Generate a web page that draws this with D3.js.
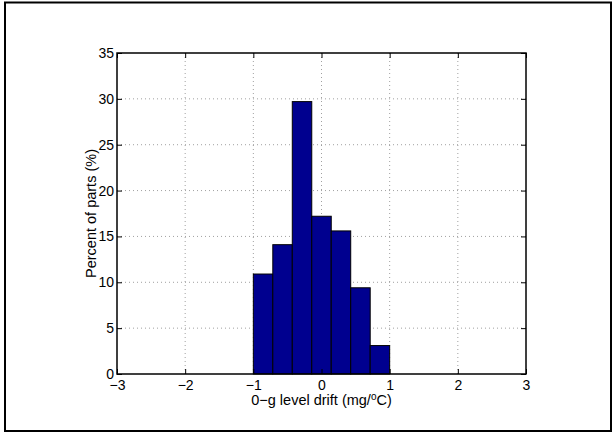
<!DOCTYPE html>
<html>
<head>
<meta charset="utf-8">
<script src="https://cdn.jsdelivr.net/npm/d3@7"></script>
<style>
  body { margin: 0; background: #fff; }
  svg { display: block; font-family: "Liberation Sans", Arial, Helvetica, sans-serif; }
</style>
</head>
<body>
<div id="chart"></div>
<script>
// histogram bins (edges from -1 to 1, 7 bins) and percent of parts
var binEdges = [-1, -0.7143, -0.4286, -0.1429, 0.1429, 0.4286, 0.7143, 1];
var percents = [10.9, 14.1, 29.7, 17.2, 15.6, 9.4, 3.1];
var xTicks = [-3, -2, -1, 0, 1, 2, 3];
var yTicks = [0, 5, 10, 15, 20, 25, 30, 35];

var width = 613, height = 433;
var plot = { left: 117, right: 526, top: 53, bottom: 374 };

var svg = d3.select('#chart').append('svg')
    .attr('width', width)
    .attr('height', height);

// figure frame
svg.append('rect')
    .attr('x', 5).attr('y', 2.5)
    .attr('width', 606).attr('height', 428.5)
    .attr('fill', 'none')
    .attr('stroke', '#000')
    .attr('stroke-width', 2);

var x = d3.scaleLinear().domain([-3, 3]).range([plot.left, plot.right]);
var y = d3.scaleLinear().domain([0, 35]).range([plot.bottom, plot.top]);

// dotted grid
var grid = svg.append('g').attr('class', 'grid');
grid.selectAll('line.gx')
    .data(xTicks.slice(1, -1))
    .enter()
    .append('line')
    .attr('class', 'gx')
    .attr('x1', function(d) { return x(d); })
    .attr('x2', function(d) { return x(d); })
    .attr('y1', plot.top)
    .attr('y2', plot.bottom)
    .attr('stroke', '#888')
    .attr('stroke-width', 0.8)
    .attr('stroke-dasharray', '1,3');
grid.selectAll('line.gy')
    .data(yTicks.slice(1, -1))
    .enter()
    .append('line')
    .attr('class', 'gy')
    .attr('x1', plot.left)
    .attr('x2', plot.right)
    .attr('y1', function(d) { return y(d); })
    .attr('y2', function(d) { return y(d); })
    .attr('stroke', '#888')
    .attr('stroke-width', 0.8)
    .attr('stroke-dasharray', '1,3');

// bars
svg.append('g')
    .selectAll('rect')
    .data(percents)
    .enter()
    .append('rect')
    .attr('x', function(d, i) { return x(binEdges[i]); })
    .attr('width', function(d, i) { return x(binEdges[i + 1]) - x(binEdges[i]); })
    .attr('y', function(d) { return y(d); })
    .attr('height', function(d) { return y(0) - y(d); })
    .attr('fill', '#00008f')
    .attr('stroke', '#000')
    .attr('stroke-width', 1);

// axes with inward ticks, box on
var axisStyle = function(g) {
    g.select('.domain').remove();
    g.selectAll('text')
        .attr('font-size', '14px')
        .attr('fill', '#000')
        .style('font-family', '"Liberation Sans", Arial, sans-serif');
    g.selectAll('line').attr('stroke', '#000');
};
var fmt = function(d) { return d < 0 ? '\u2212' + Math.abs(d) : String(d); };

svg.append('g')
    .attr('transform', 'translate(0,' + plot.bottom + ')')
    .call(d3.axisBottom(x).tickValues(xTicks).tickSizeInner(-5).tickSizeOuter(0).tickPadding(6).tickFormat(fmt))
    .call(axisStyle);
svg.append('g')
    .attr('transform', 'translate(0,' + plot.top + ')')
    .call(d3.axisTop(x).tickValues(xTicks).tickSizeInner(-5).tickSizeOuter(0).tickFormat(''))
    .call(axisStyle);
svg.append('g')
    .attr('transform', 'translate(' + plot.left + ',0)')
    .call(d3.axisLeft(y).tickValues(yTicks).tickSizeInner(-5).tickSizeOuter(0).tickPadding(3))
    .call(axisStyle);
svg.append('g')
    .attr('transform', 'translate(' + plot.right + ',0)')
    .call(d3.axisRight(y).tickValues(yTicks).tickSizeInner(-5).tickSizeOuter(0).tickFormat(''))
    .call(axisStyle);

// axes box
svg.append('rect')
    .attr('x', plot.left).attr('y', plot.top)
    .attr('width', plot.right - plot.left)
    .attr('height', plot.bottom - plot.top)
    .attr('fill', 'none')
    .attr('stroke', '#000')
    .attr('stroke-width', 1.5);

// axis labels
var xl = svg.append('text')
    .attr('x', (plot.left + plot.right) / 2)
    .attr('y', 405)
    .attr('text-anchor', 'middle')
    .attr('font-size', '14.5px');
xl.append('tspan').text('0\u2212g level drift (mg/');
xl.append('tspan').attr('font-size', '10px').attr('dy', -5).text('o');
xl.append('tspan').attr('dy', 5).text('C)');

svg.append('text')
    .attr('transform', 'translate(96,' + (plot.top + plot.bottom) / 2 + ') rotate(-90)')
    .attr('text-anchor', 'middle')
    .attr('font-size', '14.5px')
    .text('Percent of parts (%)');
</script>
</body>
</html>
